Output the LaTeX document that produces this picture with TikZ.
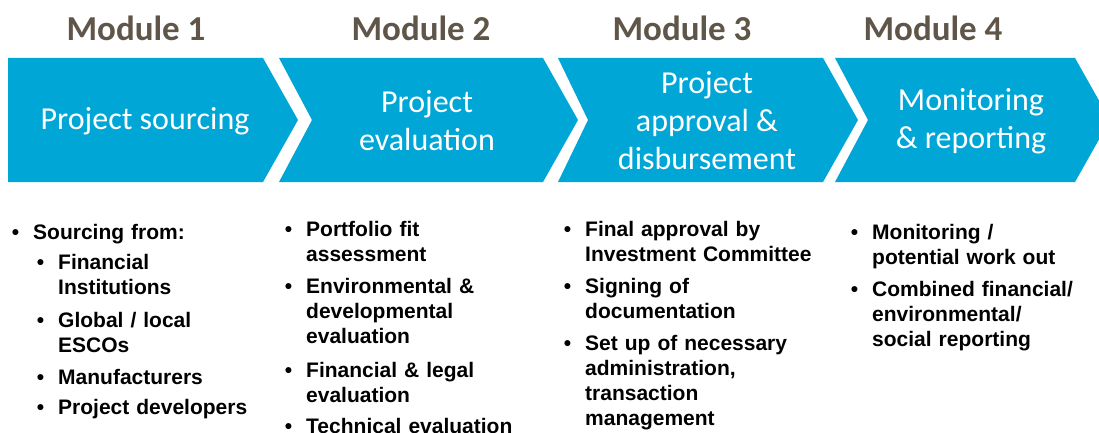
\documentclass[tikz,border=0pt]{standalone}
\usepackage{fontspec}
\usepackage{tikz}
\usetikzlibrary{positioning}
\newfontfamily\headfont{Carlito}
\newfontfamily\itemfont{Liberation Sans}
\definecolor{chevblue}{RGB}{0,166,214}
\definecolor{modgray}{RGB}{95,85,72}
\tikzset{
x=1pt, y=-1pt, % one unit is one pixel of the slide, y runs downwards
chev/.style={fill=chevblue}, % the blue arrow blocks
module/.style={text=modgray, font=\headfont\bfseries\fontsize{35}{40}\selectfont}, % titles above the blocks
stage/.style={text=white, align=center, font=\headfont\fontsize{32}{38}\selectfont}, % text inside the blocks
item/.style={anchor=base west, inner sep=0pt, text width=300pt, align=left,
  font=\itemfont\bfseries\fontsize{21}{25}\selectfont}, % bullet points
}
\newcommand{\bul}{\llap{\textbullet\hspace{14pt}}}
\def\firstchev{(8,58) -- (263,58) -- (298,120) -- (263,182) -- (8,182) -- cycle}
\def\secondchev{(279,58) -- (543,58) -- (578,120) -- (543,182) -- (279,182) -- (312,120) -- cycle}
\def\thirdchev{(558,58) -- (823,58) -- (858,120) -- (823,182) -- (558,182) -- (588,120) -- cycle}
\def\fourthchev{(835,58) -- (1075,58) -- (1110,120) -- (1075,182) -- (835,182) -- (868,120) -- cycle}

\begin{document}
\begin{tikzpicture}
    \clip (0,0) rectangle (1099,433);
    \fill[white] (0,0) rectangle (1099,433);

    %blocks
    \fill[chev] \firstchev;
    \fill[chev] \secondchev;
    \fill[chev] \thirdchev;
    \fill[chev] \fourthchev;

    \node[module] (mod1) at (136,28) {Module 1};
    \node[module] (mod2) at (421,28) {Module 2};
    \node[module] (mod3) at (682,28) {Module 3};
    \node[module] (mod4) at (933,28) {Module 4};

    \node[stage] (sourcing) at (145,121) {Project sourcing};
    \node[stage] (evaluation) at (427,121) {Project\\evaluation};
    \node[stage] (approval) at (707,121) {Project\\approval \&\\disbursement};
    \node[stage] (monitoring) at (971,121) {Monitoring\\\& reporting};

    %first column
    \node[item] (srcfrom) at (33,239) {\bul Sourcing from:};
    \node[item] (srcfin) at (58,269) {\bul Financial\\Institutions};
    \node[item] (srcesco) at (58,327) {\bul Global / local\\ESCOs};
    \node[item] (srcman) at (58,384) {\bul Manufacturers};
    \node[item] (srcdev) at (58,414) {\bul Project developers};

    %second column
    \node[item] (evport) at (306,236) {\bul Portfolio fit\\assessment};
    \node[item] (evenv) at (306,293) {\bul Environmental \&\\developmental\\evaluation};
    \node[item] (evfin) at (306,377) {\bul Financial \& legal\\evaluation};
    \node[item] (evtech) at (306,433) {\bul Technical evaluation};

    %third column
    \node[item] (apfinal) at (585,236) {\bul Final approval by\\Investment Committee};
    \node[item] (apsign) at (585,293) {\bul Signing of\\documentation};
    \node[item] (apsetup) at (585,350) {\bul Set up of necessary\\administration,\\transaction\\management};

    %fourth column
    \node[item] (monwork) at (872,239) {\bul Monitoring /\\potential work out};
    \node[item] (monrep) at (872,296) {\bul Combined financial/\\environmental/\\social reporting};

\end{tikzpicture}
\end{document}
